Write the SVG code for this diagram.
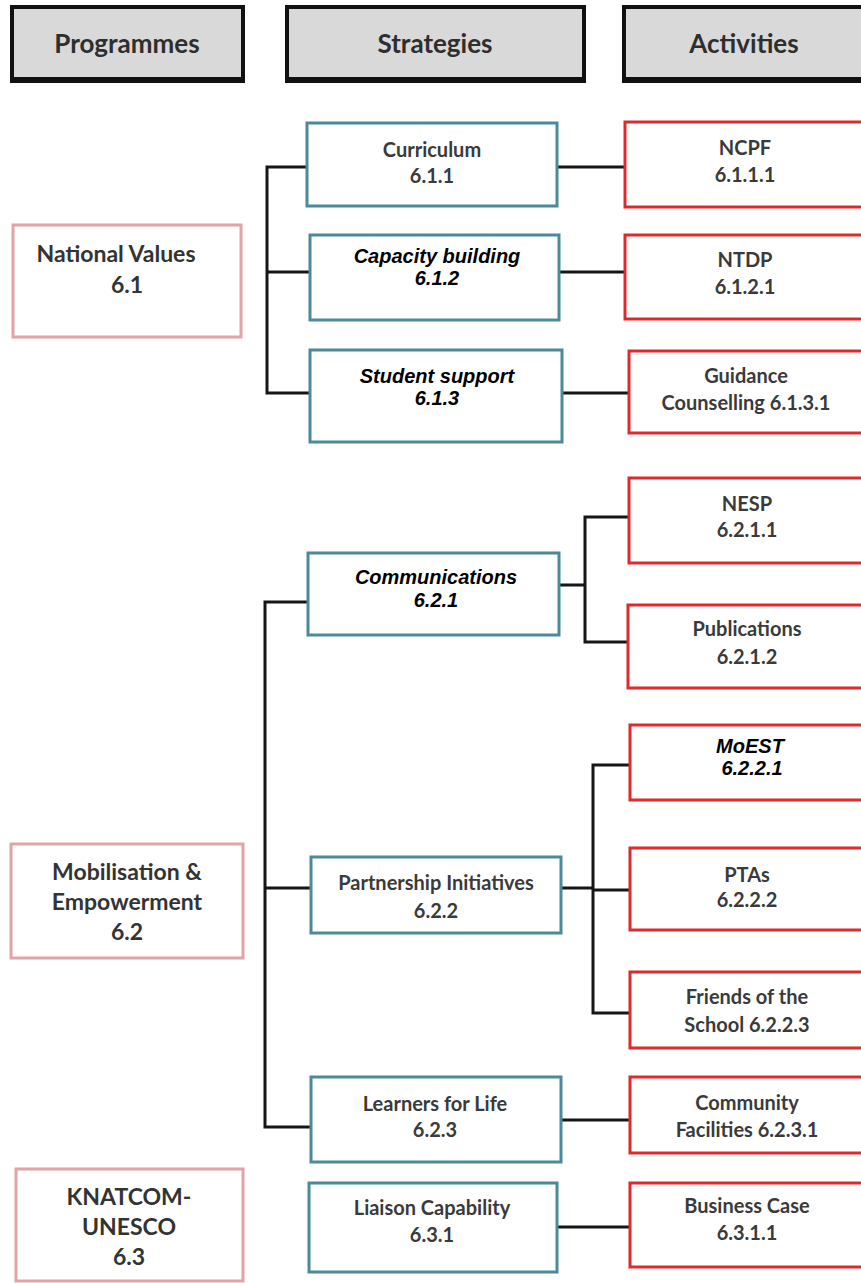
<svg xmlns="http://www.w3.org/2000/svg" width="861" height="1283" viewBox="0 0 861 1283">
  <style>
    .hdr { fill: #d9d9d9; stroke: #111; stroke-width: 4; }
    .hdr-base { stroke: #111; stroke-width: 6; }
    .prog { fill: #fff; stroke: #e2a3a6; stroke-width: 3; }
    .strat { fill: #fff; stroke: #4b8a99; stroke-width: 3; }
    .act { fill: #fff; stroke: #dd2a2d; stroke-width: 3; }
    .wire { fill: none; stroke: #161616; stroke-width: 3; stroke-linecap: square; }
    text { text-anchor: middle; }
    .h { font-family: Lato, "Open Sans", "Liberation Sans", sans-serif; font-weight: 700; font-size: 26px; fill: #2e2e2e; }
    .p { font-family: Lato, "Open Sans", "Liberation Sans", sans-serif; font-weight: 700; font-size: 23px; fill: #333; }
    .n { font-family: Lato, "Open Sans", "Liberation Sans", sans-serif; font-weight: 700; font-size: 20px; fill: #3a3a3a; }
    .i { font-family: "Liberation Sans", Arial, sans-serif; font-weight: 700; font-style: italic; font-size: 20px; fill: #000; }
  </style>

  <!-- column headers -->
  <g id="header-programmes">
    <rect class="hdr" x="12" y="7" width="231" height="73"/>
    <line class="hdr-base" x1="10" y1="80" x2="245" y2="80"/>
    <text class="h" x="127" y="53">Programmes</text>
  </g>
  <g id="header-strategies">
    <rect class="hdr" x="287" y="7" width="297" height="73"/>
    <line class="hdr-base" x1="285" y1="80" x2="586" y2="80"/>
    <text class="h" x="435" y="53">Strategies</text>
  </g>
  <g id="header-activities">
    <rect class="hdr" x="624" y="7" width="250" height="73"/>
    <line class="hdr-base" x1="622" y1="80" x2="861" y2="80"/>
    <text class="h" x="744" y="53">Activities</text>
  </g>

  <!-- connectors -->
  <g id="connectors">
    <!-- 6.1 -->
    <path class="wire" d="M267 167 V393 M267 167 H309 M267 272 H310 M267 393 H310"/>
    <path class="wire" d="M557 167 H625 M559 272 H625 M562 393 H629"/>
    <!-- 6.2.1 -->
    <path class="wire" d="M559 585 H585 M585 517 V642 M585 517 H629 M585 642 H628"/>
    <!-- 6.2 -->
    <path class="wire" d="M265 602 V1127 M265 602 H308 M265 888 H311 M265 1127 H311"/>
    <!-- 6.2.2 -->
    <path class="wire" d="M561 888 H593 M593 765 V1013 M593 765 H630 M593 890 H630 M593 1013 H630"/>
    <!-- 6.2.3 and 6.3.1 -->
    <path class="wire" d="M561 1120 H630 M557 1227 H630"/>
  </g>

  <!-- programmes -->
  <g id="prog-6-1">
    <rect class="prog" x="13" y="225" width="228" height="112"/>
    <text class="p" x="116" y="262">National Values</text>
    <text class="p" x="127" y="293">6.1</text>
  </g>
  <g id="prog-6-2">
    <rect class="prog" x="11" y="844" width="232" height="114"/>
    <text class="p" x="127" y="880">Mobilisation &amp;</text>
    <text class="p" x="127" y="910">Empowerment</text>
    <text class="p" x="127" y="940">6.2</text>
  </g>
  <g id="prog-6-3">
    <rect class="prog" x="16" y="1169" width="227" height="112"/>
    <text class="p" x="129" y="1205">KNATCOM-</text>
    <text class="p" x="129" y="1235">UNESCO</text>
    <text class="p" x="129" y="1265">6.3</text>
  </g>

  <!-- strategies -->
  <g id="strat-6-1-1">
    <rect class="strat" x="307" y="123" width="250" height="83"/>
    <text class="n" x="432" y="157">Curriculum</text>
    <text class="n" x="432" y="183">6.1.1</text>
  </g>
  <g id="strat-6-1-2">
    <rect class="strat" x="310" y="235" width="249" height="85"/>
    <text class="i" x="437" y="263">Capacity building</text>
    <text class="i" x="437" y="285">6.1.2</text>
  </g>
  <g id="strat-6-1-3">
    <rect class="strat" x="310" y="350" width="252" height="92"/>
    <text class="i" x="437" y="383">Student support</text>
    <text class="i" x="437" y="405">6.1.3</text>
  </g>
  <g id="strat-6-2-1">
    <rect class="strat" x="308" y="553" width="251" height="82"/>
    <text class="i" x="436" y="584">Communications</text>
    <text class="i" x="436" y="607">6.2.1</text>
  </g>
  <g id="strat-6-2-2">
    <rect class="strat" x="311" y="857" width="250" height="76"/>
    <text class="n" x="436" y="890">Partnership Initiatives</text>
    <text class="n" x="436" y="918">6.2.2</text>
  </g>
  <g id="strat-6-2-3">
    <rect class="strat" x="311" y="1077" width="250" height="85"/>
    <text class="n" x="435" y="1111">Learners for Life</text>
    <text class="n" x="435" y="1137">6.2.3</text>
  </g>
  <g id="strat-6-3-1">
    <rect class="strat" x="309" y="1183" width="248" height="89"/>
    <text class="n" x="432" y="1215">Liaison Capability</text>
    <text class="n" x="432" y="1242">6.3.1</text>
  </g>

  <!-- activities -->
  <g id="act-6-1-1-1">
    <rect class="act" x="625" y="122" width="245" height="85"/>
    <text class="n" x="745" y="155">NCPF</text>
    <text class="n" x="745" y="182">6.1.1.1</text>
  </g>
  <g id="act-6-1-2-1">
    <rect class="act" x="625" y="235" width="245" height="84"/>
    <text class="n" x="745" y="267">NTDP</text>
    <text class="n" x="745" y="294">6.1.2.1</text>
  </g>
  <g id="act-6-1-3-1">
    <rect class="act" x="629" y="351" width="241" height="82"/>
    <text class="n" x="746" y="383">Guidance</text>
    <text class="n" x="746" y="410">Counselling 6.1.3.1</text>
  </g>
  <g id="act-6-2-1-1">
    <rect class="act" x="629" y="478" width="241" height="85"/>
    <text class="n" x="747" y="511">NESP</text>
    <text class="n" x="747" y="537">6.2.1.1</text>
  </g>
  <g id="act-6-2-1-2">
    <rect class="act" x="628" y="605" width="242" height="83"/>
    <text class="n" x="747" y="636">Publications</text>
    <text class="n" x="747" y="664">6.2.1.2</text>
  </g>
  <g id="act-6-2-2-1">
    <rect class="act" x="630" y="725" width="240" height="75"/>
    <text class="i" x="750" y="753">MoEST</text>
    <text class="i" x="752" y="775">6.2.2.1</text>
  </g>
  <g id="act-6-2-2-2">
    <rect class="act" x="630" y="848" width="240" height="82"/>
    <text class="n" x="747" y="882">PTAs</text>
    <text class="n" x="747" y="907">6.2.2.2</text>
  </g>
  <g id="act-6-2-2-3">
    <rect class="act" x="630" y="972" width="240" height="76"/>
    <text class="n" x="747" y="1004">Friends of the</text>
    <text class="n" x="747" y="1032">School 6.2.2.3</text>
  </g>
  <g id="act-6-2-3-1">
    <rect class="act" x="630" y="1077" width="240" height="76"/>
    <text class="n" x="747" y="1110">Community</text>
    <text class="n" x="747" y="1137">Facilities 6.2.3.1</text>
  </g>
  <g id="act-6-3-1-1">
    <rect class="act" x="630" y="1183" width="240" height="84"/>
    <text class="n" x="747" y="1213">Business Case</text>
    <text class="n" x="747" y="1240">6.3.1.1</text>
  </g>
</svg>
